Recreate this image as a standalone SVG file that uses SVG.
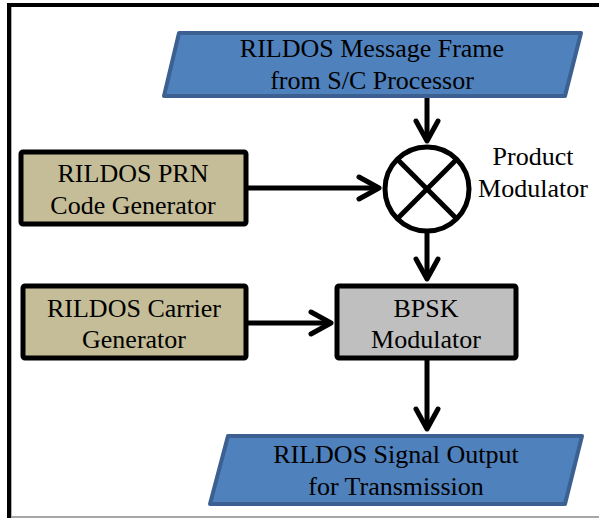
<svg xmlns="http://www.w3.org/2000/svg" width="599" height="518" viewBox="0 0 599 518">
<defs>
<style>
.t{font-family:"Liberation Serif","Times New Roman",serif;font-size:26px;fill:#000;text-anchor:middle}
.io{fill:#4f81bd;stroke:#3b6091;stroke-width:4;stroke-linejoin:round}
.proc{stroke:#000;stroke-width:5;stroke-linejoin:round}
.ln{stroke:#000;stroke-width:5;fill:none}
</style>
<marker id="ah" markerUnits="userSpaceOnUse" markerWidth="40" markerHeight="40" viewBox="-30 -20 40 40" refX="0" refY="0" orient="auto">
<path d="M-20,-11 L0,0 L-20,11" fill="none" stroke="#000" stroke-width="5" stroke-linecap="round" stroke-linejoin="round"/>
</marker>
</defs>
<rect width="599" height="518" fill="#fff"/>
<g id="frame">
<rect x="7" y="3" width="592" height="4" fill="#000"/>
<rect x="7" y="3" width="4" height="515" fill="#000"/>
<rect x="11" y="7" width="1" height="511" fill="#b0b0b0"/>
<rect x="11" y="516" width="588" height="2" fill="#a6a6a6"/>
</g>
<g id="connectors">
<line class="ln" x1="427" y1="98" x2="427" y2="141" marker-end="url(#ah)"/>
<line class="ln" x1="248" y1="188" x2="379" y2="188" marker-end="url(#ah)"/>
<line class="ln" x1="427" y1="233" x2="427" y2="279" marker-end="url(#ah)"/>
<line class="ln" x1="246" y1="323" x2="331" y2="323" marker-end="url(#ah)"/>
<line class="ln" x1="427" y1="360" x2="427" y2="429" marker-end="url(#ah)"/>
</g>
<g id="msg-frame">
<polygon class="io" points="179,33 581,33 565,96 164,96"/>
<text class="t" x="372" y="57">RILDOS Message Frame</text>
<text class="t" x="372" y="89">from S/C Processor</text>
</g>
<g id="prn-gen">
<rect class="proc" x="21" y="152" width="225" height="72" rx="2" fill="#c4bd97"/>
<text class="t" x="133" y="182">RILDOS PRN</text>
<text class="t" x="133" y="214">Code Generator</text>
</g>
<g id="product-mod">
<circle cx="427" cy="189" r="42" fill="#fff" stroke="#000" stroke-width="5"/>
<line class="ln" x1="397.3" y1="159.3" x2="456.7" y2="218.7"/>
<line class="ln" x1="456.7" y1="159.3" x2="397.3" y2="218.7"/>
<text class="t" x="533" y="165">Product</text>
<text class="t" x="533" y="197">Modulator</text>
</g>
<g id="carrier-gen">
<rect class="proc" x="23" y="286" width="223" height="72" rx="2" fill="#c4bd97"/>
<text class="t" x="134" y="317">RILDOS Carrier</text>
<text class="t" x="134" y="348">Generator</text>
</g>
<g id="bpsk">
<rect class="proc" x="337" y="286" width="179" height="72" rx="2" fill="#bfbfbf"/>
<text class="t" x="426" y="317">BPSK</text>
<text class="t" x="426" y="348">Modulator</text>
</g>
<g id="signal-out">
<polygon class="io" points="228,436 582,436 565,504 210,504"/>
<text class="t" x="396" y="463">RILDOS Signal Output</text>
<text class="t" x="396" y="495">for Transmission</text>
</g>
</svg>
